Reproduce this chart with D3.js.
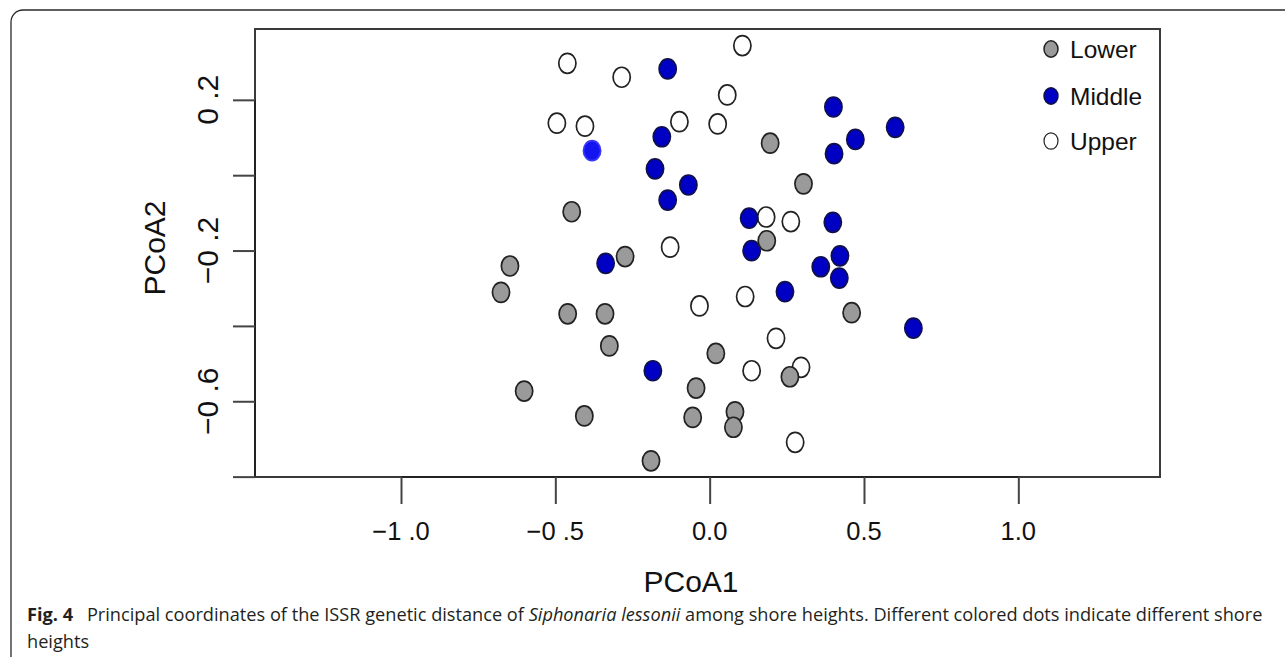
<!DOCTYPE html>
<html>
<head>
<meta charset="utf-8">
<script src="https://cdn.jsdelivr.net/npm/d3@7"></script>
<style>
html,body{margin:0;padding:0;background:#fff;}
svg{display:block;}
</style>
</head>
<body>
<svg id="chart" width="1285" height="657"></svg>
<script>
// ---- data ----
const lowerX = [-0.447, 0.196, 0.304, 0.185, 0.460, 0.020, 0.260, 0.082, 0.077, -0.647, -0.676, -0.274, -0.460, -0.339, -0.325, -0.601, -0.044, -0.406, -0.055, -0.190];
const lowerY = [-0.097, 0.085, -0.023, -0.174, -0.365, -0.473, -0.535, -0.628, -0.669, -0.241, -0.311, -0.216, -0.368, -0.368, -0.453, -0.573, -0.565, -0.639, -0.643, -0.758];

const middleX = [-0.136, -0.381, -0.155, -0.177, -0.069, -0.136, 0.401, 0.601, 0.472, 0.403, 0.128, 0.399, 0.136, 0.422, 0.360, 0.420, 0.244, 0.660, -0.337, -0.184];
const middleY = [0.282, 0.065, 0.102, 0.017, -0.026, -0.066, 0.181, 0.127, 0.095, 0.057, -0.114, -0.125, -0.200, -0.214, -0.243, -0.273, -0.309, -0.406, -0.234, -0.519];

const upperX = [-0.461, -0.285, -0.495, -0.404, -0.098, 0.026, 0.057, 0.106, 0.183, 0.263, -0.128, -0.033, 0.115, 0.215, 0.136, 0.296, 0.277];
const upperY = [0.297, 0.260, 0.138, 0.130, 0.142, 0.136, 0.213, 0.344, -0.111, -0.123, -0.191, -0.347, -0.322, -0.433, -0.519, -0.510, -0.709];

const legendLabels = ["Lower", "Middle", "Upper"];
const xTickValues = [-1.0, -0.5, 0.0, 0.5, 1.0];
const xTickLabels = ["\u22121 .0", "\u22120 .5", "0.0", "0.5", "1.0"];
const yTickValues = [-0.8, -0.6, -0.4, -0.2, 0.0, 0.2];
const yLabelValues = [0.2, -0.2, -0.6];
const yTickLabels = ["0 .2", "\u22120 .2", "\u22120 .6"];
const xTitle = "PCoA1";
const yTitle = "PCoA2";

// ---- layout ----
const svg = d3.select("#chart");
const L = 255, R = 1160, T = 29, B = 477;
const x = d3.scaleLinear().domain([-1.473, 1.459]).range([L, R]);
const y = d3.scaleLinear().domain([-0.801, 0.388]).range([B, T]);
const FONT = "'Liberation Sans', Arial, Helvetica, sans-serif";

svg.append("rect").attr("width", 1285).attr("height", 657).attr("fill", "#fff");

// outer figure frame (rounded corner, open to right/bottom)
svg.append("path")
  .attr("d", "M11,657 L11,22 A12,12 0 0 1 23,10 L1285,10")
  .attr("fill", "none").attr("stroke", "#2a2a2a").attr("stroke-width", 1.3);

// plot box
svg.append("rect")
  .attr("x", L).attr("y", T).attr("width", R - L).attr("height", B - T)
  .attr("fill", "none").attr("stroke", "#3a3a3a").attr("stroke-width", 2);

// x axis
const xAxis = d3.axisBottom(x).tickValues(xTickValues).tickSize(27).tickFormat("");
const gx = svg.append("g").attr("transform", `translate(0,${B})`).call(xAxis);
gx.select(".domain").attr("stroke", "#222").attr("stroke-width", 2.2)
  .attr("d", `M${x(xTickValues[0])},0H${x(xTickValues[xTickValues.length - 1])}`);
gx.selectAll(".tick line").attr("stroke", "#444").attr("stroke-width", 2);

svg.append("g").selectAll("text").data(xTickValues).join("text")
  .attr("x", d => x(d)).attr("y", 540)
  .attr("text-anchor", "middle")
  .attr("font-family", FONT).attr("font-size", 25.5).attr("fill", "#111")
  .text((d, i) => xTickLabels[i]);

// y axis
const yAxis = d3.axisLeft(y).tickValues(yTickValues).tickSize(22).tickFormat("");
const gy = svg.append("g").attr("transform", `translate(${L},0)`).call(yAxis);
gy.select(".domain").attr("stroke", "#222").attr("stroke-width", 2)
  .attr("d", `M0,${y(yTickValues[0])}V${y(yTickValues[yTickValues.length - 1])}`);
gy.selectAll(".tick line").attr("stroke", "#444").attr("stroke-width", 2);

svg.append("g").selectAll("text").data(yLabelValues).join("text")
  .attr("transform", d => `translate(218,${y(d)}) rotate(-90)`)
  .attr("text-anchor", "middle")
  .attr("font-family", FONT).attr("font-size", 30).attr("fill", "#111")
  .text((d, i) => yTickLabels[i]);

// axis titles
svg.append("text")
  .attr("x", 691).attr("y", 592).attr("text-anchor", "middle")
  .attr("font-family", FONT).attr("font-size", 30).attr("fill", "#111")
  .text(xTitle);
svg.append("text")
  .attr("transform", "translate(165,248) rotate(-90)").attr("text-anchor", "middle")
  .attr("font-family", FONT).attr("font-size", 30).attr("fill", "#111")
  .text(yTitle);

// points
const styles = {
  Lower: {fill: "#9a9a9a", stroke: "#222"},
  Middle: {fill: "#0000c4", stroke: "#10104a"},
  Upper: {fill: "#ffffff", stroke: "#222"}
};
function pts(xs, ys) { return xs.map((v, i) => ({x: v, y: ys[i], i})); }
const LIGHT_INDEX = 1; // the brighter, outline-less Middle point

const gp = svg.append("g");
gp.selectAll(".up").data(pts(upperX, upperY)).join("ellipse").attr("class", "up")
  .attr("cx", d => x(d.x)).attr("cy", d => y(d.y)).attr("rx", 8.6).attr("ry", 10)
  .attr("fill", styles.Upper.fill).attr("stroke", styles.Upper.stroke).attr("stroke-width", 1.7);
gp.selectAll(".mid").data(pts(middleX, middleY)).join("ellipse").attr("class", "mid")
  .attr("cx", d => x(d.x)).attr("cy", d => y(d.y)).attr("rx", 8.6).attr("ry", 10)
  .attr("fill", d => d.i === LIGHT_INDEX ? "#1414f0" : styles.Middle.fill)
  .attr("stroke", d => d.i === LIGHT_INDEX ? "#3a3af5" : styles.Middle.stroke)
  .attr("stroke-width", 1.7);
gp.selectAll(".low").data(pts(lowerX, lowerY)).join("ellipse").attr("class", "low")
  .attr("cx", d => x(d.x)).attr("cy", d => y(d.y)).attr("rx", 8.6).attr("ry", 10)
  .attr("fill", styles.Lower.fill).attr("stroke", styles.Lower.stroke).attr("stroke-width", 1.7);

// legend
const legY = [49, 96, 141];
const lg = svg.append("g");
legendLabels.forEach((lab, i) => {
  lg.append("ellipse").attr("cx", 1051).attr("cy", legY[i]).attr("rx", 7).attr("ry", 8.2)
    .attr("fill", styles[lab].fill).attr("stroke", styles[lab].stroke)
    .attr("stroke-width", lab === "Upper" ? 1.2 : 1.5);
  lg.append("text").attr("x", 1070).attr("y", legY[i] + 8.5)
    .attr("font-family", FONT).attr("font-size", 24.5).attr("fill", "#111").text(lab);
});

// caption
const CFONT = "'Open Sans', 'Noto Sans', sans-serif";
const CSIZE = 18.4;
const cap = svg.append("text").attr("x", 27).attr("y", 621)
  .attr("font-family", CFONT).attr("font-size", CSIZE).attr("fill", "#231f20");
cap.append("tspan").attr("font-weight", "bold").text("Fig. 4");
cap.append("tspan").text("\u2002 Principal coordinates of the ISSR genetic distance of ");
cap.append("tspan").attr("font-style", "italic").text("Siphonaria lessonii");
cap.append("tspan").text(" among shore heights. Different colored dots indicate different shore");
const w = cap.node().getComputedTextLength();
const sx = 1236 / w;
cap.attr("transform", `translate(27,0) scale(${sx},1) translate(-27,0)`);

svg.append("text").attr("x", 27).attr("y", 648)
  .attr("font-family", CFONT).attr("font-size", CSIZE).attr("fill", "#231f20")
  .attr("transform", `translate(27,0) scale(${sx},1) translate(-27,0)`)
  .text("heights");
</script>
</body>
</html>
